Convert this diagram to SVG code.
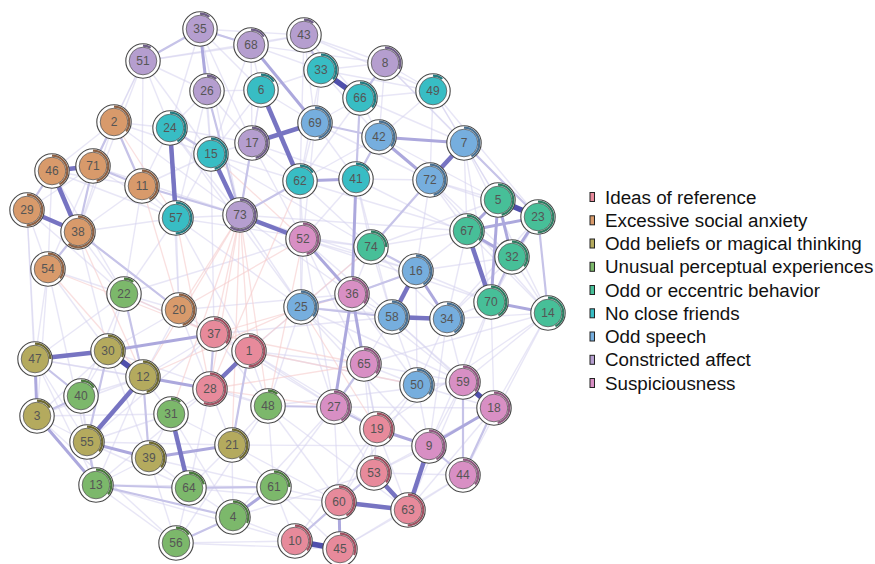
<svg xmlns="http://www.w3.org/2000/svg" width="875" height="564" viewBox="0 0 875 564">
<style>
.f{stroke:#d6d3f0;stroke-width:1.4;opacity:.55}
.n{stroke:#f7cccc;stroke-width:1.3;opacity:.6}
.m{stroke:#c6c3e8;stroke-width:2.2}
.m2{stroke:#aca8dd;stroke-width:3}
.s{stroke:#7774c2;stroke-width:4.5}
.v{stroke:#5050ac;stroke-width:5.5}
.nd .o{fill:#fff;stroke:#4a4a4a;stroke-width:1.1}
.nd .p{fill:none;stroke-width:2.2}
.nd .i{stroke:#5c5c5c;stroke-width:.8}
.nd text{font-family:"Liberation Sans",Arial,sans-serif;font-size:12px;fill:#555;text-anchor:middle}
.IR .i{fill:#E78A9B}.IR .p{stroke:#9E5060}
.SA .i{fill:#D89A6B}.SA .p{stroke:#8C6043}
.OB .i{fill:#B4AA5E}.OB .p{stroke:#6E6930}
.UP .i{fill:#7CB86B}.UP .p{stroke:#4A7A3D}
.OE .i{fill:#47BF98}.OE .p{stroke:#2E7C62}
.NF .i{fill:#38BDC4}.NF .p{stroke:#237A80}
.OS .i{fill:#76AEDE}.OS .p{stroke:#4A7091}
.CA .i{fill:#B59ECF}.CA .p{stroke:#6E5E86}
.SU .i{fill:#D88FC4}.SU .p{stroke:#8E5A80}
.lg rect{stroke:#222;stroke-width:1}
.lg text{font-family:"Liberation Sans",Arial,sans-serif;font-size:18.8px;fill:#111}
</style>
<rect width="875" height="564" fill="#fff"/>
<g id="edges">
<g id="faint">
<line class="f" x1="143" y1="61" x2="170" y2="128"/>
<line class="f" x1="143" y1="61" x2="207" y2="91"/>
<line class="f" x1="143" y1="61" x2="114" y2="122"/>
<line class="f" x1="143" y1="61" x2="211" y2="154"/>
<line class="f" x1="143" y1="61" x2="251" y2="45"/>
<line class="f" x1="143" y1="61" x2="142" y2="186"/>
<line class="f" x1="200" y1="29" x2="251" y2="45"/>
<line class="f" x1="200" y1="29" x2="304" y2="35"/>
<line class="f" x1="200" y1="29" x2="261" y2="90"/>
<line class="f" x1="200" y1="29" x2="252" y2="143"/>
<line class="f" x1="200" y1="29" x2="211" y2="154"/>
<line class="f" x1="200" y1="29" x2="170" y2="128"/>
<line class="f" x1="251" y1="45" x2="304" y2="35"/>
<line class="f" x1="251" y1="45" x2="321" y2="70"/>
<line class="f" x1="251" y1="45" x2="261" y2="90"/>
<line class="f" x1="251" y1="45" x2="252" y2="143"/>
<line class="f" x1="251" y1="45" x2="211" y2="154"/>
<line class="f" x1="304" y1="35" x2="385" y2="63"/>
<line class="f" x1="304" y1="35" x2="360" y2="98"/>
<line class="f" x1="304" y1="35" x2="315" y2="123"/>
<line class="f" x1="304" y1="35" x2="300" y2="181"/>
<line class="f" x1="207" y1="91" x2="261" y2="90"/>
<line class="f" x1="207" y1="91" x2="170" y2="128"/>
<line class="f" x1="207" y1="91" x2="211" y2="154"/>
<line class="f" x1="207" y1="91" x2="252" y2="143"/>
<line class="f" x1="261" y1="90" x2="252" y2="143"/>
<line class="f" x1="261" y1="90" x2="315" y2="123"/>
<line class="f" x1="261" y1="90" x2="321" y2="70"/>
<line class="f" x1="261" y1="90" x2="211" y2="154"/>
<line class="f" x1="321" y1="70" x2="385" y2="63"/>
<line class="f" x1="321" y1="70" x2="315" y2="123"/>
<line class="f" x1="321" y1="70" x2="379" y2="137"/>
<line class="f" x1="385" y1="63" x2="379" y2="137"/>
<line class="f" x1="385" y1="63" x2="433" y2="91"/>
<line class="f" x1="385" y1="63" x2="464" y2="143"/>
<line class="f" x1="360" y1="98" x2="315" y2="123"/>
<line class="f" x1="360" y1="98" x2="379" y2="137"/>
<line class="f" x1="360" y1="98" x2="300" y2="181"/>
<line class="f" x1="433" y1="91" x2="379" y2="137"/>
<line class="f" x1="433" y1="91" x2="464" y2="143"/>
<line class="f" x1="433" y1="91" x2="430" y2="180"/>
<line class="f" x1="433" y1="91" x2="360" y2="98"/>
<line class="f" x1="114" y1="122" x2="170" y2="128"/>
<line class="f" x1="114" y1="122" x2="93" y2="166"/>
<line class="f" x1="114" y1="122" x2="52" y2="171"/>
<line class="f" x1="114" y1="122" x2="211" y2="154"/>
<line class="f" x1="170" y1="128" x2="252" y2="143"/>
<line class="f" x1="170" y1="128" x2="142" y2="186"/>
<line class="f" x1="170" y1="128" x2="240" y2="215"/>
<line class="f" x1="315" y1="123" x2="300" y2="181"/>
<line class="f" x1="315" y1="123" x2="356" y2="179"/>
<line class="f" x1="315" y1="123" x2="430" y2="180"/>
<line class="f" x1="379" y1="137" x2="356" y2="179"/>
<line class="f" x1="379" y1="137" x2="300" y2="181"/>
<line class="f" x1="464" y1="143" x2="498" y2="200"/>
<line class="f" x1="464" y1="143" x2="467" y2="231"/>
<line class="f" x1="464" y1="143" x2="548" y2="313"/>
<line class="f" x1="211" y1="154" x2="252" y2="143"/>
<line class="f" x1="211" y1="154" x2="300" y2="181"/>
<line class="f" x1="211" y1="154" x2="176" y2="218"/>
<line class="f" x1="211" y1="154" x2="142" y2="186"/>
<line class="f" x1="252" y1="143" x2="300" y2="181"/>
<line class="f" x1="252" y1="143" x2="356" y2="179"/>
<line class="f" x1="52" y1="171" x2="142" y2="186"/>
<line class="f" x1="52" y1="171" x2="48" y2="269"/>
<line class="f" x1="93" y1="166" x2="27" y2="210"/>
<line class="f" x1="93" y1="166" x2="176" y2="218"/>
<line class="f" x1="93" y1="166" x2="48" y2="269"/>
<line class="f" x1="142" y1="186" x2="176" y2="218"/>
<line class="f" x1="142" y1="186" x2="78" y2="232"/>
<line class="f" x1="142" y1="186" x2="124" y2="294"/>
<line class="f" x1="300" y1="181" x2="303" y2="239"/>
<line class="f" x1="300" y1="181" x2="371" y2="247"/>
<line class="f" x1="356" y1="179" x2="430" y2="180"/>
<line class="f" x1="356" y1="179" x2="371" y2="247"/>
<line class="f" x1="356" y1="179" x2="303" y2="239"/>
<line class="f" x1="430" y1="180" x2="498" y2="200"/>
<line class="f" x1="430" y1="180" x2="467" y2="231"/>
<line class="f" x1="430" y1="180" x2="416" y2="271"/>
<line class="f" x1="430" y1="180" x2="512" y2="257"/>
<line class="f" x1="498" y1="200" x2="371" y2="247"/>
<line class="f" x1="538" y1="217" x2="491" y2="302"/>
<line class="f" x1="27" y1="210" x2="48" y2="269"/>
<line class="f" x1="27" y1="210" x2="35" y2="359"/>
<line class="f" x1="78" y1="232" x2="176" y2="218"/>
<line class="f" x1="78" y1="232" x2="124" y2="294"/>
<line class="f" x1="78" y1="232" x2="179" y2="310"/>
<line class="f" x1="78" y1="232" x2="108" y2="351"/>
<line class="f" x1="176" y1="218" x2="240" y2="215"/>
<line class="f" x1="176" y1="218" x2="179" y2="310"/>
<line class="f" x1="176" y1="218" x2="124" y2="294"/>
<line class="f" x1="176" y1="218" x2="301" y2="307"/>
<line class="f" x1="240" y1="215" x2="301" y2="307"/>
<line class="f" x1="240" y1="215" x2="352" y2="294"/>
<line class="f" x1="303" y1="239" x2="301" y2="307"/>
<line class="f" x1="303" y1="239" x2="371" y2="247"/>
<line class="f" x1="303" y1="239" x2="416" y2="271"/>
<line class="f" x1="303" y1="239" x2="392" y2="317"/>
<line class="f" x1="303" y1="239" x2="364" y2="364"/>
<line class="f" x1="467" y1="231" x2="371" y2="247"/>
<line class="f" x1="467" y1="231" x2="416" y2="271"/>
<line class="f" x1="467" y1="231" x2="447" y2="319"/>
<line class="f" x1="371" y1="247" x2="392" y2="317"/>
<line class="f" x1="371" y1="247" x2="352" y2="294"/>
<line class="f" x1="371" y1="247" x2="301" y2="307"/>
<line class="f" x1="371" y1="247" x2="447" y2="319"/>
<line class="f" x1="512" y1="257" x2="447" y2="319"/>
<line class="f" x1="512" y1="257" x2="548" y2="313"/>
<line class="f" x1="512" y1="257" x2="416" y2="271"/>
<line class="f" x1="48" y1="269" x2="124" y2="294"/>
<line class="f" x1="48" y1="269" x2="35" y2="359"/>
<line class="f" x1="48" y1="269" x2="108" y2="351"/>
<line class="f" x1="48" y1="269" x2="37" y2="416"/>
<line class="f" x1="416" y1="271" x2="352" y2="294"/>
<line class="f" x1="416" y1="271" x2="417" y2="385"/>
<line class="f" x1="124" y1="294" x2="108" y2="351"/>
<line class="f" x1="124" y1="294" x2="179" y2="310"/>
<line class="f" x1="124" y1="294" x2="214" y2="334"/>
<line class="f" x1="124" y1="294" x2="81" y2="396"/>
<line class="f" x1="179" y1="310" x2="214" y2="334"/>
<line class="f" x1="179" y1="310" x2="143" y2="377"/>
<line class="f" x1="179" y1="310" x2="210" y2="389"/>
<line class="f" x1="179" y1="310" x2="108" y2="351"/>
<line class="f" x1="301" y1="307" x2="392" y2="317"/>
<line class="f" x1="301" y1="307" x2="364" y2="364"/>
<line class="f" x1="301" y1="307" x2="249" y2="351"/>
<line class="f" x1="301" y1="307" x2="334" y2="407"/>
<line class="f" x1="301" y1="307" x2="268" y2="406"/>
<line class="f" x1="352" y1="294" x2="392" y2="317"/>
<line class="f" x1="352" y1="294" x2="417" y2="385"/>
<line class="f" x1="352" y1="294" x2="377" y2="429"/>
<line class="f" x1="392" y1="317" x2="417" y2="385"/>
<line class="f" x1="392" y1="317" x2="364" y2="364"/>
<line class="f" x1="392" y1="317" x2="463" y2="382"/>
<line class="f" x1="447" y1="319" x2="491" y2="302"/>
<line class="f" x1="447" y1="319" x2="463" y2="382"/>
<line class="f" x1="447" y1="319" x2="417" y2="385"/>
<line class="f" x1="447" y1="319" x2="548" y2="313"/>
<line class="f" x1="491" y1="302" x2="463" y2="382"/>
<line class="f" x1="491" y1="302" x2="494" y2="408"/>
<line class="f" x1="548" y1="313" x2="463" y2="382"/>
<line class="f" x1="548" y1="313" x2="494" y2="408"/>
<line class="f" x1="548" y1="313" x2="463" y2="475"/>
<line class="f" x1="214" y1="334" x2="249" y2="351"/>
<line class="f" x1="214" y1="334" x2="143" y2="377"/>
<line class="f" x1="214" y1="334" x2="268" y2="406"/>
<line class="f" x1="249" y1="351" x2="268" y2="406"/>
<line class="f" x1="249" y1="351" x2="334" y2="407"/>
<line class="f" x1="249" y1="351" x2="364" y2="364"/>
<line class="f" x1="35" y1="359" x2="143" y2="377"/>
<line class="f" x1="35" y1="359" x2="87" y2="442"/>
<line class="f" x1="108" y1="351" x2="81" y2="396"/>
<line class="f" x1="108" y1="351" x2="37" y2="416"/>
<line class="f" x1="108" y1="351" x2="149" y2="458"/>
<line class="f" x1="143" y1="377" x2="81" y2="396"/>
<line class="f" x1="143" y1="377" x2="171" y2="414"/>
<line class="f" x1="143" y1="377" x2="96" y2="485"/>
<line class="f" x1="210" y1="389" x2="171" y2="414"/>
<line class="f" x1="210" y1="389" x2="268" y2="406"/>
<line class="f" x1="210" y1="389" x2="232" y2="445"/>
<line class="f" x1="210" y1="389" x2="189" y2="488"/>
<line class="f" x1="364" y1="364" x2="417" y2="385"/>
<line class="f" x1="364" y1="364" x2="377" y2="429"/>
<line class="f" x1="364" y1="364" x2="463" y2="382"/>
<line class="f" x1="417" y1="385" x2="463" y2="382"/>
<line class="f" x1="417" y1="385" x2="494" y2="408"/>
<line class="f" x1="417" y1="385" x2="429" y2="446"/>
<line class="f" x1="417" y1="385" x2="377" y2="429"/>
<line class="f" x1="463" y1="382" x2="429" y2="446"/>
<line class="f" x1="81" y1="396" x2="87" y2="442"/>
<line class="f" x1="81" y1="396" x2="96" y2="485"/>
<line class="f" x1="268" y1="406" x2="232" y2="445"/>
<line class="f" x1="268" y1="406" x2="274" y2="487"/>
<line class="f" x1="334" y1="407" x2="377" y2="429"/>
<line class="f" x1="334" y1="407" x2="339" y2="502"/>
<line class="f" x1="334" y1="407" x2="274" y2="487"/>
<line class="f" x1="377" y1="429" x2="374" y2="473"/>
<line class="f" x1="377" y1="429" x2="408" y2="510"/>
<line class="f" x1="37" y1="416" x2="87" y2="442"/>
<line class="f" x1="171" y1="414" x2="149" y2="458"/>
<line class="f" x1="171" y1="414" x2="87" y2="442"/>
<line class="f" x1="171" y1="414" x2="232" y2="445"/>
<line class="f" x1="87" y1="442" x2="189" y2="488"/>
<line class="f" x1="149" y1="458" x2="189" y2="488"/>
<line class="f" x1="149" y1="458" x2="96" y2="485"/>
<line class="f" x1="149" y1="458" x2="176" y2="543"/>
<line class="f" x1="232" y1="445" x2="189" y2="488"/>
<line class="f" x1="232" y1="445" x2="274" y2="487"/>
<line class="f" x1="232" y1="445" x2="233" y2="517"/>
<line class="f" x1="429" y1="446" x2="374" y2="473"/>
<line class="f" x1="463" y1="475" x2="408" y2="510"/>
<line class="f" x1="374" y1="473" x2="339" y2="502"/>
<line class="f" x1="96" y1="485" x2="176" y2="543"/>
<line class="f" x1="189" y1="488" x2="233" y2="517"/>
<line class="f" x1="189" y1="488" x2="176" y2="543"/>
<line class="f" x1="274" y1="487" x2="339" y2="502"/>
<line class="f" x1="274" y1="487" x2="295" y2="541"/>
<line class="f" x1="339" y1="502" x2="295" y2="541"/>
<line class="f" x1="408" y1="510" x2="340" y2="549"/>
<line class="f" x1="233" y1="517" x2="295" y2="541"/>
<line class="f" x1="176" y1="543" x2="295" y2="541"/>
<line class="f" x1="200" y1="29" x2="240" y2="215"/>
<line class="f" x1="143" y1="61" x2="78" y2="232"/>
<line class="f" x1="52" y1="171" x2="124" y2="294"/>
<line class="f" x1="27" y1="210" x2="37" y2="416"/>
<line class="f" x1="48" y1="269" x2="96" y2="485"/>
<line class="f" x1="96" y1="485" x2="295" y2="541"/>
<line class="f" x1="176" y1="543" x2="340" y2="549"/>
<line class="f" x1="385" y1="63" x2="538" y2="217"/>
<line class="f" x1="433" y1="91" x2="498" y2="200"/>
<line class="f" x1="304" y1="35" x2="433" y2="91"/>
<line class="f" x1="114" y1="122" x2="78" y2="232"/>
<line class="f" x1="143" y1="61" x2="93" y2="166"/>
<line class="f" x1="37" y1="416" x2="176" y2="543"/>
<line class="f" x1="340" y1="549" x2="463" y2="475"/>
<line class="f" x1="408" y1="510" x2="494" y2="408"/>
<line class="f" x1="374" y1="473" x2="494" y2="408"/>
<line class="f" x1="464" y1="143" x2="491" y2="302"/>
<line class="f" x1="430" y1="180" x2="548" y2="313"/>
<line class="f" x1="538" y1="217" x2="447" y2="319"/>
<line class="f" x1="35" y1="359" x2="96" y2="485"/>
<line class="f" x1="124" y1="294" x2="35" y2="359"/>
<line class="f" x1="303" y1="239" x2="334" y2="407"/>
<line class="f" x1="356" y1="179" x2="392" y2="317"/>
<line class="f" x1="300" y1="181" x2="301" y2="307"/>
<line class="f" x1="315" y1="123" x2="303" y2="239"/>
<line class="f" x1="252" y1="143" x2="303" y2="239"/>
<line class="f" x1="211" y1="154" x2="214" y2="334"/>
<line class="f" x1="170" y1="128" x2="179" y2="310"/>
<line class="f" x1="207" y1="91" x2="176" y2="218"/>
<line class="f" x1="261" y1="90" x2="240" y2="215"/>
<line class="f" x1="321" y1="70" x2="300" y2="181"/>
<line class="f" x1="433" y1="91" x2="538" y2="217"/>
<line class="f" x1="171" y1="414" x2="233" y2="517"/>
<line class="f" x1="274" y1="487" x2="340" y2="549"/>
<line class="f" x1="377" y1="429" x2="339" y2="502"/>
<line class="f" x1="334" y1="407" x2="374" y2="473"/>
<line class="f" x1="268" y1="406" x2="339" y2="502"/>
<line class="f" x1="232" y1="445" x2="339" y2="502"/>
<line class="f" x1="463" y1="475" x2="374" y2="473"/>
<line class="f" x1="170" y1="128" x2="301" y2="307"/>
<line class="f" x1="114" y1="122" x2="240" y2="215"/>
<line class="f" x1="52" y1="171" x2="176" y2="218"/>
<line class="f" x1="93" y1="166" x2="240" y2="215"/>
<line class="f" x1="27" y1="210" x2="124" y2="294"/>
<line class="f" x1="37" y1="416" x2="171" y2="414"/>
<line class="f" x1="35" y1="359" x2="210" y2="389"/>
<line class="f" x1="108" y1="351" x2="268" y2="406"/>
<line class="f" x1="87" y1="442" x2="232" y2="445"/>
<line class="f" x1="96" y1="485" x2="274" y2="487"/>
<line class="f" x1="149" y1="458" x2="274" y2="487"/>
<line class="f" x1="189" y1="488" x2="339" y2="502"/>
<line class="f" x1="233" y1="517" x2="374" y2="473"/>
<line class="f" x1="232" y1="445" x2="429" y2="446"/>
<line class="f" x1="268" y1="406" x2="463" y2="382"/>
<line class="f" x1="249" y1="351" x2="417" y2="385"/>
<line class="f" x1="214" y1="334" x2="392" y2="317"/>
<line class="f" x1="179" y1="310" x2="352" y2="294"/>
<line class="f" x1="124" y1="294" x2="303" y2="239"/>
<line class="f" x1="176" y1="218" x2="371" y2="247"/>
<line class="f" x1="240" y1="215" x2="467" y2="231"/>
<line class="f" x1="300" y1="181" x2="467" y2="231"/>
<line class="f" x1="356" y1="179" x2="512" y2="257"/>
<line class="f" x1="303" y1="239" x2="491" y2="302"/>
<line class="f" x1="301" y1="307" x2="447" y2="319"/>
<line class="f" x1="364" y1="364" x2="548" y2="313"/>
<line class="f" x1="334" y1="407" x2="494" y2="408"/>
<line class="f" x1="377" y1="429" x2="548" y2="313"/>
<line class="f" x1="429" y1="446" x2="491" y2="302"/>
<line class="f" x1="408" y1="510" x2="463" y2="382"/>
<line class="f" x1="339" y1="502" x2="417" y2="385"/>
<line class="f" x1="295" y1="541" x2="377" y2="429"/>
<line class="f" x1="233" y1="517" x2="334" y2="407"/>
<line class="f" x1="176" y1="543" x2="268" y2="406"/>
<line class="f" x1="96" y1="485" x2="210" y2="389"/>
<line class="f" x1="87" y1="442" x2="214" y2="334"/>
<line class="f" x1="37" y1="416" x2="143" y2="377"/>
<line class="f" x1="143" y1="61" x2="304" y2="35"/>
<line class="f" x1="251" y1="45" x2="385" y2="63"/>
<line class="f" x1="321" y1="70" x2="433" y2="91"/>
<line class="f" x1="360" y1="98" x2="464" y2="143"/>
<line class="f" x1="379" y1="137" x2="498" y2="200"/>
<line class="f" x1="430" y1="180" x2="538" y2="217"/>
<line class="f" x1="467" y1="231" x2="548" y2="313"/>
<line class="f" x1="416" y1="271" x2="491" y2="302"/>
<line class="f" x1="392" y1="317" x2="494" y2="408"/>
<line class="f" x1="447" y1="319" x2="429" y2="446"/>
<line class="f" x1="301" y1="307" x2="463" y2="382"/>
<line class="f" x1="301" y1="307" x2="429" y2="446"/>
<line class="f" x1="240" y1="215" x2="416" y2="271"/>
<line class="f" x1="211" y1="154" x2="371" y2="247"/>
<line class="f" x1="176" y1="218" x2="249" y2="351"/>
<line class="f" x1="214" y1="334" x2="334" y2="407"/>
<line class="f" x1="249" y1="351" x2="377" y2="429"/>
<line class="f" x1="268" y1="406" x2="408" y2="510"/>
<line class="f" x1="364" y1="364" x2="374" y2="473"/>
<line class="f" x1="352" y1="294" x2="463" y2="382"/>
</g>
<g id="negative">
<line class="n" x1="240" y1="215" x2="210" y2="389"/>
<line class="n" x1="240" y1="215" x2="214" y2="334"/>
<line class="n" x1="240" y1="215" x2="249" y2="351"/>
<line class="n" x1="240" y1="215" x2="232" y2="445"/>
<line class="n" x1="240" y1="215" x2="268" y2="406"/>
<line class="n" x1="240" y1="215" x2="171" y2="414"/>
<line class="n" x1="240" y1="215" x2="143" y2="377"/>
<line class="n" x1="240" y1="215" x2="179" y2="310"/>
<line class="n" x1="114" y1="122" x2="142" y2="186"/>
<line class="n" x1="114" y1="122" x2="176" y2="218"/>
<line class="n" x1="48" y1="269" x2="143" y2="377"/>
<line class="n" x1="48" y1="269" x2="214" y2="334"/>
<line class="n" x1="142" y1="186" x2="179" y2="310"/>
<line class="n" x1="176" y1="218" x2="210" y2="389"/>
<line class="n" x1="211" y1="154" x2="303" y2="239"/>
<line class="n" x1="300" y1="181" x2="210" y2="389"/>
<line class="n" x1="303" y1="239" x2="268" y2="406"/>
<line class="n" x1="301" y1="307" x2="377" y2="429"/>
<line class="n" x1="352" y1="294" x2="214" y2="334"/>
<line class="n" x1="214" y1="334" x2="124" y2="294"/>
<line class="n" x1="179" y1="310" x2="303" y2="239"/>
<line class="n" x1="210" y1="389" x2="364" y2="364"/>
<line class="n" x1="249" y1="351" x2="371" y2="247"/>
<line class="n" x1="214" y1="334" x2="364" y2="364"/>
<line class="n" x1="143" y1="377" x2="301" y2="307"/>
<line class="n" x1="249" y1="351" x2="417" y2="385"/>
<line class="n" x1="210" y1="389" x2="334" y2="407"/>
<line class="n" x1="78" y1="232" x2="143" y2="377"/>
</g>
<g id="medium">
<line class="m" x1="143" y1="61" x2="200" y2="29"/>
<line class="m" x1="52" y1="171" x2="27" y2="210"/>
<line class="m" x1="93" y1="166" x2="78" y2="232"/>
<line class="m" x1="93" y1="166" x2="142" y2="186"/>
<line class="m" x1="114" y1="122" x2="142" y2="186"/>
<line class="m" x1="170" y1="128" x2="211" y2="154"/>
<line class="m" x1="142" y1="186" x2="240" y2="215"/>
<line class="m" x1="240" y1="215" x2="300" y2="181"/>
<line class="m" x1="252" y1="143" x2="240" y2="215"/>
<line class="m" x1="207" y1="91" x2="240" y2="215"/>
<line class="m" x1="385" y1="63" x2="360" y2="98"/>
<line class="m" x1="304" y1="35" x2="321" y2="70"/>
<line class="m" x1="315" y1="123" x2="379" y2="137"/>
<line class="m" x1="430" y1="180" x2="371" y2="247"/>
<line class="m" x1="464" y1="143" x2="538" y2="217"/>
<line class="m" x1="301" y1="307" x2="352" y2="294"/>
<line class="m" x1="371" y1="247" x2="416" y2="271"/>
<line class="m" x1="364" y1="364" x2="334" y2="407"/>
<line class="m" x1="463" y1="382" x2="463" y2="475"/>
<line class="m" x1="494" y1="408" x2="463" y2="475"/>
<line class="m" x1="429" y1="446" x2="463" y2="475"/>
<line class="m" x1="189" y1="488" x2="274" y2="487"/>
<line class="m" x1="96" y1="485" x2="233" y2="517"/>
<line class="m" x1="176" y1="543" x2="233" y2="517"/>
<line class="m" x1="87" y1="442" x2="96" y2="485"/>
<line class="m" x1="35" y1="359" x2="81" y2="396"/>
<line class="m" x1="37" y1="416" x2="81" y2="396"/>
<line class="m" x1="124" y1="294" x2="143" y2="377"/>
<line class="m" x1="214" y1="334" x2="210" y2="389"/>
<line class="m" x1="249" y1="351" x2="232" y2="445"/>
<line class="m" x1="96" y1="485" x2="189" y2="488"/>
<line class="m" x1="512" y1="257" x2="491" y2="302"/>
<line class="m" x1="538" y1="217" x2="548" y2="313"/>
<line class="m" x1="268" y1="406" x2="334" y2="407"/>
<line class="m" x1="143" y1="377" x2="149" y2="458"/>
<line class="m" x1="108" y1="351" x2="87" y2="442"/>
<line class="m" x1="78" y1="232" x2="48" y2="269"/>
<line class="m" x1="78" y1="232" x2="179" y2="310"/>
<line class="m" x1="93" y1="166" x2="114" y2="122"/>
<line class="m" x1="379" y1="137" x2="356" y2="179"/>
<line class="m" x1="360" y1="98" x2="356" y2="179"/>
<line class="m" x1="352" y1="294" x2="416" y2="271"/>
<line class="m" x1="392" y1="317" x2="301" y2="307"/>
<line class="m" x1="339" y1="502" x2="374" y2="473"/>
<line class="m" x1="295" y1="541" x2="339" y2="502"/>
<line class="m" x1="377" y1="429" x2="334" y2="407"/>
<line class="m" x1="251" y1="45" x2="200" y2="29"/>
<line class="m2" x1="200" y1="29" x2="207" y2="91"/>
<line class="m2" x1="251" y1="45" x2="315" y2="123"/>
<line class="m2" x1="379" y1="137" x2="464" y2="143"/>
<line class="m2" x1="379" y1="137" x2="430" y2="180"/>
<line class="m2" x1="300" y1="181" x2="356" y2="179"/>
<line class="m2" x1="356" y1="179" x2="352" y2="294"/>
<line class="m2" x1="416" y1="271" x2="447" y2="319"/>
<line class="m2" x1="303" y1="239" x2="352" y2="294"/>
<line class="m2" x1="352" y1="294" x2="364" y2="364"/>
<line class="m2" x1="352" y1="294" x2="334" y2="407"/>
<line class="m2" x1="494" y1="408" x2="429" y2="446"/>
<line class="m2" x1="377" y1="429" x2="429" y2="446"/>
<line class="m2" x1="339" y1="502" x2="340" y2="549"/>
<line class="m2" x1="233" y1="517" x2="274" y2="487"/>
<line class="m2" x1="108" y1="351" x2="214" y2="334"/>
<line class="m2" x1="143" y1="377" x2="210" y2="389"/>
<line class="m2" x1="232" y1="445" x2="149" y2="458"/>
<line class="m2" x1="87" y1="442" x2="149" y2="458"/>
<line class="m2" x1="35" y1="359" x2="37" y2="416"/>
<line class="m2" x1="37" y1="416" x2="96" y2="485"/>
<line class="m2" x1="467" y1="231" x2="538" y2="217"/>
<line class="m2" x1="498" y1="200" x2="467" y2="231"/>
<line class="m2" x1="498" y1="200" x2="512" y2="257"/>
<line class="m2" x1="498" y1="200" x2="491" y2="302"/>
<line class="m2" x1="538" y1="217" x2="512" y2="257"/>
<line class="m2" x1="467" y1="231" x2="512" y2="257"/>
<line class="m2" x1="491" y1="302" x2="548" y2="313"/>
</g>
<g id="strong">
<line class="s" x1="27" y1="210" x2="78" y2="232"/>
<line class="s" x1="52" y1="171" x2="78" y2="232"/>
<line class="s" x1="52" y1="171" x2="93" y2="166"/>
<line class="s" x1="170" y1="128" x2="176" y2="218"/>
<line class="s" x1="211" y1="154" x2="240" y2="215"/>
<line class="s" x1="261" y1="90" x2="300" y2="181"/>
<line class="s" x1="464" y1="143" x2="430" y2="180"/>
<line class="s" x1="467" y1="231" x2="491" y2="302"/>
<line class="s" x1="416" y1="271" x2="392" y2="317"/>
<line class="s" x1="392" y1="317" x2="447" y2="319"/>
<line class="s" x1="429" y1="446" x2="408" y2="510"/>
<line class="s" x1="374" y1="473" x2="408" y2="510"/>
<line class="s" x1="339" y1="502" x2="408" y2="510"/>
<line class="s" x1="171" y1="414" x2="189" y2="488"/>
<line class="s" x1="143" y1="377" x2="87" y2="442"/>
<line class="s" x1="35" y1="359" x2="108" y2="351"/>
<line class="s" x1="210" y1="389" x2="249" y2="351"/>
<line class="s" x1="252" y1="143" x2="315" y2="123"/>
<line class="s" x1="240" y1="215" x2="303" y2="239"/>
<line class="v" x1="463" y1="382" x2="494" y2="408"/>
<line class="v" x1="321" y1="70" x2="360" y2="98"/>
<line class="v" x1="498" y1="200" x2="538" y2="217"/>
<line class="v" x1="295" y1="541" x2="340" y2="549"/>
<line class="v" x1="108" y1="351" x2="143" y2="377"/>
</g>
</g>
<g id="nodes">
<g id="n35" class="nd CA" transform="translate(200,29)"><circle class="o" r="17.2"/><circle class="p" r="15.3" transform="rotate(-90)" stroke-dasharray="10 100"/><circle class="i" r="13.8"/><text y="4.3">35</text></g>
<g id="n68" class="nd CA" transform="translate(251,45)"><circle class="o" r="17.2"/><circle class="p" r="15.3" transform="rotate(-90)" stroke-dasharray="15 100"/><circle class="i" r="13.8"/><text y="4.3">68</text></g>
<g id="n43" class="nd CA" transform="translate(304,35)"><circle class="o" r="17.2"/><circle class="p" r="15.3" transform="rotate(-90)" stroke-dasharray="10 100"/><circle class="i" r="13.8"/><text y="4.3">43</text></g>
<g id="n51" class="nd CA" transform="translate(143,61)"><circle class="o" r="17.2"/><circle class="p" r="15.3" transform="rotate(-90)" stroke-dasharray="8 100"/><circle class="i" r="13.8"/><text y="4.3">51</text></g>
<g id="n26" class="nd CA" transform="translate(207,91)"><circle class="o" r="17.2"/><circle class="p" r="15.3" transform="rotate(-90)" stroke-dasharray="10 100"/><circle class="i" r="13.8"/><text y="4.3">26</text></g>
<g id="n6" class="nd NF" transform="translate(261,90)"><circle class="o" r="17.2"/><circle class="p" r="15.3" transform="rotate(-90)" stroke-dasharray="15 100"/><circle class="i" r="13.8"/><text y="4.3">6</text></g>
<g id="n33" class="nd NF" transform="translate(321,70)"><circle class="o" r="17.2"/><circle class="p" r="15.3" transform="rotate(-90)" stroke-dasharray="34 100"/><circle class="i" r="13.8"/><text y="4.3">33</text></g>
<g id="n8" class="nd CA" transform="translate(385,63)"><circle class="o" r="17.2"/><circle class="p" r="15.3" transform="rotate(-90)" stroke-dasharray="30 100"/><circle class="i" r="13.8"/><text y="4.3">8</text></g>
<g id="n66" class="nd NF" transform="translate(360,98)"><circle class="o" r="17.2"/><circle class="p" r="15.3" transform="rotate(-90)" stroke-dasharray="34 100"/><circle class="i" r="13.8"/><text y="4.3">66</text></g>
<g id="n49" class="nd NF" transform="translate(433,91)"><circle class="o" r="17.2"/><circle class="p" r="15.3" transform="rotate(-90)" stroke-dasharray="10 100"/><circle class="i" r="13.8"/><text y="4.3">49</text></g>
<g id="n2" class="nd SA" transform="translate(114,122)"><circle class="o" r="17.2"/><circle class="p" r="15.3" transform="rotate(-90)" stroke-dasharray="34 100"/><circle class="i" r="13.8"/><text y="4.3">2</text></g>
<g id="n24" class="nd NF" transform="translate(170,128)"><circle class="o" r="17.2"/><circle class="p" r="15.3" transform="rotate(-90)" stroke-dasharray="40 100"/><circle class="i" r="13.8"/><text y="4.3">24</text></g>
<g id="n69" class="nd OS" transform="translate(315,123)"><circle class="o" r="17.2"/><circle class="p" r="15.3" transform="rotate(-90)" stroke-dasharray="44 100"/><circle class="i" r="13.8"/><text y="4.3">69</text></g>
<g id="n42" class="nd OS" transform="translate(379,137)"><circle class="o" r="17.2"/><circle class="p" r="15.3" transform="rotate(-90)" stroke-dasharray="34 100"/><circle class="i" r="13.8"/><text y="4.3">42</text></g>
<g id="n7" class="nd OS" transform="translate(464,143)"><circle class="o" r="17.2"/><circle class="p" r="15.3" transform="rotate(-90)" stroke-dasharray="40 100"/><circle class="i" r="13.8"/><text y="4.3">7</text></g>
<g id="n15" class="nd NF" transform="translate(211,154)"><circle class="o" r="17.2"/><circle class="p" r="15.3" transform="rotate(-90)" stroke-dasharray="44 100"/><circle class="i" r="13.8"/><text y="4.3">15</text></g>
<g id="n17" class="nd CA" transform="translate(252,143)"><circle class="o" r="17.2"/><circle class="p" r="15.3" transform="rotate(-90)" stroke-dasharray="44 100"/><circle class="i" r="13.8"/><text y="4.3">17</text></g>
<g id="n46" class="nd SA" transform="translate(52,171)"><circle class="o" r="17.2"/><circle class="p" r="15.3" transform="rotate(-90)" stroke-dasharray="40 100"/><circle class="i" r="13.8"/><text y="4.3">46</text></g>
<g id="n71" class="nd SA" transform="translate(93,166)"><circle class="o" r="17.2"/><circle class="p" r="15.3" transform="rotate(-90)" stroke-dasharray="44 100"/><circle class="i" r="13.8"/><text y="4.3">71</text></g>
<g id="n11" class="nd SA" transform="translate(142,186)"><circle class="o" r="17.2"/><circle class="p" r="15.3" transform="rotate(-90)" stroke-dasharray="40 100"/><circle class="i" r="13.8"/><text y="4.3">11</text></g>
<g id="n62" class="nd NF" transform="translate(300,181)"><circle class="o" r="17.2"/><circle class="p" r="15.3" transform="rotate(-90)" stroke-dasharray="15 100"/><circle class="i" r="13.8"/><text y="4.3">62</text></g>
<g id="n41" class="nd NF" transform="translate(356,179)"><circle class="o" r="17.2"/><circle class="p" r="15.3" transform="rotate(-90)" stroke-dasharray="15 100"/><circle class="i" r="13.8"/><text y="4.3">41</text></g>
<g id="n72" class="nd OS" transform="translate(430,180)"><circle class="o" r="17.2"/><circle class="p" r="15.3" transform="rotate(-90)" stroke-dasharray="44 100"/><circle class="i" r="13.8"/><text y="4.3">72</text></g>
<g id="n5" class="nd OE" transform="translate(498,200)"><circle class="o" r="17.2"/><circle class="p" r="15.3" transform="rotate(-90)" stroke-dasharray="44 100"/><circle class="i" r="13.8"/><text y="4.3">5</text></g>
<g id="n23" class="nd OE" transform="translate(538,217)"><circle class="o" r="17.2"/><circle class="p" r="15.3" transform="rotate(-90)" stroke-dasharray="48 100"/><circle class="i" r="13.8"/><text y="4.3">23</text></g>
<g id="n29" class="nd SA" transform="translate(27,210)"><circle class="o" r="17.2"/><circle class="p" r="15.3" transform="rotate(-90)" stroke-dasharray="48 100"/><circle class="i" r="13.8"/><text y="4.3">29</text></g>
<g id="n38" class="nd SA" transform="translate(78,232)"><circle class="o" r="17.2"/><circle class="p" r="15.3" transform="rotate(-90)" stroke-dasharray="58 100"/><circle class="i" r="13.8"/><text y="4.3">38</text></g>
<g id="n57" class="nd NF" transform="translate(176,218)"><circle class="o" r="17.2"/><circle class="p" r="15.3" transform="rotate(-90)" stroke-dasharray="48 100"/><circle class="i" r="13.8"/><text y="4.3">57</text></g>
<g id="n73" class="nd CA" transform="translate(240,215)"><circle class="o" r="17.2"/><circle class="p" r="15.3" transform="rotate(-90)" stroke-dasharray="58 100"/><circle class="i" r="13.8"/><text y="4.3">73</text></g>
<g id="n52" class="nd SU" transform="translate(303,239)"><circle class="o" r="17.2"/><circle class="p" r="15.3" transform="rotate(-90)" stroke-dasharray="44 100"/><circle class="i" r="13.8"/><text y="4.3">52</text></g>
<g id="n67" class="nd OE" transform="translate(467,231)"><circle class="o" r="17.2"/><circle class="p" r="15.3" transform="rotate(-90)" stroke-dasharray="34 100"/><circle class="i" r="13.8"/><text y="4.3">67</text></g>
<g id="n74" class="nd OE" transform="translate(371,247)"><circle class="o" r="17.2"/><circle class="p" r="15.3" transform="rotate(-90)" stroke-dasharray="24 100"/><circle class="i" r="13.8"/><text y="4.3">74</text></g>
<g id="n32" class="nd OE" transform="translate(512,257)"><circle class="o" r="17.2"/><circle class="p" r="15.3" transform="rotate(-90)" stroke-dasharray="34 100"/><circle class="i" r="13.8"/><text y="4.3">32</text></g>
<g id="n54" class="nd SA" transform="translate(48,269)"><circle class="o" r="17.2"/><circle class="p" r="15.3" transform="rotate(-90)" stroke-dasharray="34 100"/><circle class="i" r="13.8"/><text y="4.3">54</text></g>
<g id="n16" class="nd OS" transform="translate(416,271)"><circle class="o" r="17.2"/><circle class="p" r="15.3" transform="rotate(-90)" stroke-dasharray="40 100"/><circle class="i" r="13.8"/><text y="4.3">16</text></g>
<g id="n22" class="nd UP" transform="translate(124,294)"><circle class="o" r="17.2"/><circle class="p" r="15.3" transform="rotate(-90)" stroke-dasharray="10 100"/><circle class="i" r="13.8"/><text y="4.3">22</text></g>
<g id="n20" class="nd SA" transform="translate(179,310)"><circle class="o" r="17.2"/><circle class="p" r="15.3" transform="rotate(-90)" stroke-dasharray="44 100"/><circle class="i" r="13.8"/><text y="4.3">20</text></g>
<g id="n25" class="nd OS" transform="translate(301,307)"><circle class="o" r="17.2"/><circle class="p" r="15.3" transform="rotate(-90)" stroke-dasharray="34 100"/><circle class="i" r="13.8"/><text y="4.3">25</text></g>
<g id="n36" class="nd SU" transform="translate(352,294)"><circle class="o" r="17.2"/><circle class="p" r="15.3" transform="rotate(-90)" stroke-dasharray="34 100"/><circle class="i" r="13.8"/><text y="4.3">36</text></g>
<g id="n58" class="nd OS" transform="translate(392,317)"><circle class="o" r="17.2"/><circle class="p" r="15.3" transform="rotate(-90)" stroke-dasharray="40 100"/><circle class="i" r="13.8"/><text y="4.3">58</text></g>
<g id="n34" class="nd OS" transform="translate(447,319)"><circle class="o" r="17.2"/><circle class="p" r="15.3" transform="rotate(-90)" stroke-dasharray="40 100"/><circle class="i" r="13.8"/><text y="4.3">34</text></g>
<g id="n70" class="nd OE" transform="translate(491,302)"><circle class="o" r="17.2"/><circle class="p" r="15.3" transform="rotate(-90)" stroke-dasharray="40 100"/><circle class="i" r="13.8"/><text y="4.3">70</text></g>
<g id="n14" class="nd OE" transform="translate(548,313)"><circle class="o" r="17.2"/><circle class="p" r="15.3" transform="rotate(-90)" stroke-dasharray="40 100"/><circle class="i" r="13.8"/><text y="4.3">14</text></g>
<g id="n37" class="nd IR" transform="translate(214,334)"><circle class="o" r="17.2"/><circle class="p" r="15.3" transform="rotate(-90)" stroke-dasharray="34 100"/><circle class="i" r="13.8"/><text y="4.3">37</text></g>
<g id="n1" class="nd IR" transform="translate(249,351)"><circle class="o" r="17.2"/><circle class="p" r="15.3" transform="rotate(-90)" stroke-dasharray="48 100"/><circle class="i" r="13.8"/><text y="4.3">1</text></g>
<g id="n47" class="nd OB" transform="translate(35,359)"><circle class="o" r="17.2"/><circle class="p" r="15.3" transform="rotate(-90)" stroke-dasharray="24 100"/><circle class="i" r="13.8"/><text y="4.3">47</text></g>
<g id="n30" class="nd OB" transform="translate(108,351)"><circle class="o" r="17.2"/><circle class="p" r="15.3" transform="rotate(-90)" stroke-dasharray="30 100"/><circle class="i" r="13.8"/><text y="4.3">30</text></g>
<g id="n12" class="nd OB" transform="translate(143,377)"><circle class="o" r="17.2"/><circle class="p" r="15.3" transform="rotate(-90)" stroke-dasharray="44 100"/><circle class="i" r="13.8"/><text y="4.3">12</text></g>
<g id="n28" class="nd IR" transform="translate(210,389)"><circle class="o" r="17.2"/><circle class="p" r="15.3" transform="rotate(-90)" stroke-dasharray="54 100"/><circle class="i" r="13.8"/><text y="4.3">28</text></g>
<g id="n65" class="nd SU" transform="translate(364,364)"><circle class="o" r="17.2"/><circle class="p" r="15.3" transform="rotate(-90)" stroke-dasharray="34 100"/><circle class="i" r="13.8"/><text y="4.3">65</text></g>
<g id="n50" class="nd OS" transform="translate(417,385)"><circle class="o" r="17.2"/><circle class="p" r="15.3" transform="rotate(-90)" stroke-dasharray="34 100"/><circle class="i" r="13.8"/><text y="4.3">50</text></g>
<g id="n59" class="nd SU" transform="translate(463,382)"><circle class="o" r="17.2"/><circle class="p" r="15.3" transform="rotate(-90)" stroke-dasharray="34 100"/><circle class="i" r="13.8"/><text y="4.3">59</text></g>
<g id="n18" class="nd SU" transform="translate(494,408)"><circle class="o" r="17.2"/><circle class="p" r="15.3" transform="rotate(-90)" stroke-dasharray="44 100"/><circle class="i" r="13.8"/><text y="4.3">18</text></g>
<g id="n40" class="nd UP" transform="translate(81,396)"><circle class="o" r="17.2"/><circle class="p" r="15.3" transform="rotate(-90)" stroke-dasharray="15 100"/><circle class="i" r="13.8"/><text y="4.3">40</text></g>
<g id="n48" class="nd UP" transform="translate(268,406)"><circle class="o" r="17.2"/><circle class="p" r="15.3" transform="rotate(-90)" stroke-dasharray="10 100"/><circle class="i" r="13.8"/><text y="4.3">48</text></g>
<g id="n27" class="nd SU" transform="translate(334,407)"><circle class="o" r="17.2"/><circle class="p" r="15.3" transform="rotate(-90)" stroke-dasharray="40 100"/><circle class="i" r="13.8"/><text y="4.3">27</text></g>
<g id="n19" class="nd IR" transform="translate(377,429)"><circle class="o" r="17.2"/><circle class="p" r="15.3" transform="rotate(-90)" stroke-dasharray="34 100"/><circle class="i" r="13.8"/><text y="4.3">19</text></g>
<g id="n3" class="nd OB" transform="translate(37,416)"><circle class="o" r="17.2"/><circle class="p" r="15.3" transform="rotate(-90)" stroke-dasharray="15 100"/><circle class="i" r="13.8"/><text y="4.3">3</text></g>
<g id="n31" class="nd UP" transform="translate(171,414)"><circle class="o" r="17.2"/><circle class="p" r="15.3" transform="rotate(-90)" stroke-dasharray="10 100"/><circle class="i" r="13.8"/><text y="4.3">31</text></g>
<g id="n55" class="nd OB" transform="translate(87,442)"><circle class="o" r="17.2"/><circle class="p" r="15.3" transform="rotate(-90)" stroke-dasharray="34 100"/><circle class="i" r="13.8"/><text y="4.3">55</text></g>
<g id="n39" class="nd OB" transform="translate(149,458)"><circle class="o" r="17.2"/><circle class="p" r="15.3" transform="rotate(-90)" stroke-dasharray="34 100"/><circle class="i" r="13.8"/><text y="4.3">39</text></g>
<g id="n21" class="nd OB" transform="translate(232,445)"><circle class="o" r="17.2"/><circle class="p" r="15.3" transform="rotate(-90)" stroke-dasharray="40 100"/><circle class="i" r="13.8"/><text y="4.3">21</text></g>
<g id="n9" class="nd SU" transform="translate(429,446)"><circle class="o" r="17.2"/><circle class="p" r="15.3" transform="rotate(-90)" stroke-dasharray="40 100"/><circle class="i" r="13.8"/><text y="4.3">9</text></g>
<g id="n44" class="nd SU" transform="translate(463,475)"><circle class="o" r="17.2"/><circle class="p" r="15.3" transform="rotate(-90)" stroke-dasharray="34 100"/><circle class="i" r="13.8"/><text y="4.3">44</text></g>
<g id="n53" class="nd IR" transform="translate(374,473)"><circle class="o" r="17.2"/><circle class="p" r="15.3" transform="rotate(-90)" stroke-dasharray="34 100"/><circle class="i" r="13.8"/><text y="4.3">53</text></g>
<g id="n13" class="nd UP" transform="translate(96,485)"><circle class="o" r="17.2"/><circle class="p" r="15.3" transform="rotate(-90)" stroke-dasharray="34 100"/><circle class="i" r="13.8"/><text y="4.3">13</text></g>
<g id="n64" class="nd UP" transform="translate(189,488)"><circle class="o" r="17.2"/><circle class="p" r="15.3" transform="rotate(-90)" stroke-dasharray="20 100"/><circle class="i" r="13.8"/><text y="4.3">64</text></g>
<g id="n61" class="nd UP" transform="translate(274,487)"><circle class="o" r="17.2"/><circle class="p" r="15.3" transform="rotate(-90)" stroke-dasharray="24 100"/><circle class="i" r="13.8"/><text y="4.3">61</text></g>
<g id="n60" class="nd IR" transform="translate(339,502)"><circle class="o" r="17.2"/><circle class="p" r="15.3" transform="rotate(-90)" stroke-dasharray="40 100"/><circle class="i" r="13.8"/><text y="4.3">60</text></g>
<g id="n63" class="nd IR" transform="translate(408,510)"><circle class="o" r="17.2"/><circle class="p" r="15.3" transform="rotate(-90)" stroke-dasharray="48 100"/><circle class="i" r="13.8"/><text y="4.3">63</text></g>
<g id="n4" class="nd UP" transform="translate(233,517)"><circle class="o" r="17.2"/><circle class="p" r="15.3" transform="rotate(-90)" stroke-dasharray="30 100"/><circle class="i" r="13.8"/><text y="4.3">4</text></g>
<g id="n56" class="nd UP" transform="translate(176,543)"><circle class="o" r="17.2"/><circle class="p" r="15.3" transform="rotate(-90)" stroke-dasharray="15 100"/><circle class="i" r="13.8"/><text y="4.3">56</text></g>
<g id="n10" class="nd IR" transform="translate(295,541)"><circle class="o" r="17.2"/><circle class="p" r="15.3" transform="rotate(-90)" stroke-dasharray="34 100"/><circle class="i" r="13.8"/><text y="4.3">10</text></g>
<g id="n45" class="nd IR" transform="translate(340,549)"><circle class="o" r="17.2"/><circle class="p" r="15.3" transform="rotate(-90)" stroke-dasharray="30 100"/><circle class="i" r="13.8"/><text y="4.3">45</text></g>
</g>
<g id="legend" class="lg">
<rect x="590" y="192.5" width="4.5" height="9" fill="#E78A9B"/><text x="605" y="203.5">Ideas of reference</text>
<rect x="590" y="215.8" width="4.5" height="9" fill="#D89A6B"/><text x="605" y="226.8">Excessive social anxiety</text>
<rect x="590" y="239" width="4.5" height="9" fill="#B4AA5E"/><text x="605" y="250">Odd beliefs or magical thinking</text>
<rect x="590" y="262.3" width="4.5" height="9" fill="#7CB86B"/><text x="605" y="273.3">Unusual perceptual experiences</text>
<rect x="590" y="285.5" width="4.5" height="9" fill="#47BF98"/><text x="605" y="296.5">Odd or eccentric behavior</text>
<rect x="590" y="308.8" width="4.5" height="9" fill="#38BDC4"/><text x="605" y="319.8">No close friends</text>
<rect x="590" y="332" width="4.5" height="9" fill="#76AEDE"/><text x="605" y="343">Odd speech</text>
<rect x="590" y="355.3" width="4.5" height="9" fill="#B59ECF"/><text x="605" y="366.3">Constricted affect</text>
<rect x="590" y="378.5" width="4.5" height="9" fill="#D88FC4"/><text x="605" y="389.5">Suspiciousness</text>
</g>
</svg>
